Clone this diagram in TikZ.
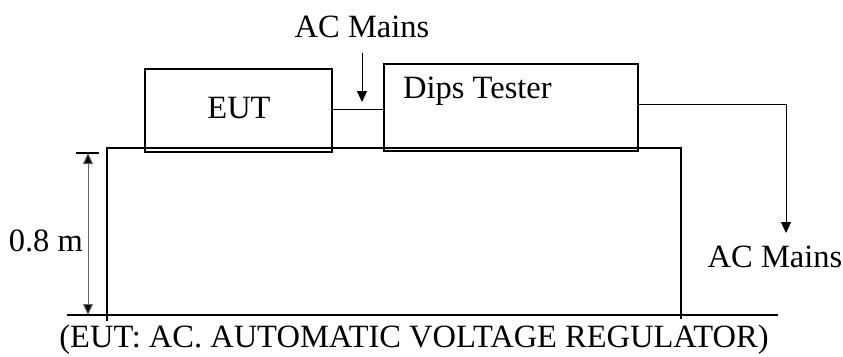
\documentclass[tikz,border=0pt]{standalone}
\usepackage{fontspec}
\setmainfont{Liberation Serif}
\usetikzlibrary{arrows.meta}

\begin{document}
\begin{tikzpicture}[x=1pt,y=-1pt,>={Triangle[length=11pt,width=10pt]},
    unit/.style={draw,line width=1.1pt,inner sep=0pt},
    lbl/.style={inner sep=0pt,font=\fontsize{32.5}{38}\selectfont},
    wire/.style={line width=1pt}]
        \useasboundingbox (0,0) rectangle (843,356);
        % boxes on the table
        \node[unit,minimum width=187pt,minimum height=83pt] (eut) at (238.5,110.5) {};
        \node[lbl,anchor=base] (euttext) at (239,118) {EUT};
        \node[unit,minimum width=254pt,minimum height=87pt] (dips) at (511,107.5) {};
        \node[lbl,anchor=base west] (dipstext) at (403,98) {Dips Tester};
        \draw[wire] ([yshift=1.5pt]eut.east) -- ([yshift=1.5pt]eut.east -| dips.west);
        % mains in and out
        \node[lbl,anchor=base] (acin) at (362,37) {AC Mains};
        \coordinate (acintip) at (362,102);
        \draw[wire,->] ([yshift=-15pt]acin.south) -- (acintip);
        \node[lbl,anchor=base] (acout) at (775,267) {AC Mains};
        \coordinate (acouttip) at (786,233);
        \draw[wire,->] ([yshift=3.5pt]dips.east) -| (acouttip);
        % table and floor
        \draw[line width=1.1pt] (107,321) -- (107,148) -- (681,148) -- (681,319);
        \draw[line width=1.1pt] (67,315) -- (778,315);
        \draw[line width=1.1pt] (76,153) -- (99,153);
        \draw[line width=1pt,black!60,<->,>={Triangle[length=11pt,width=10pt,fill=black]}] (88,153) -- (88,315);
        \node[lbl,anchor=base east] (height) at (83,251) {0.8 m};
        \node[lbl,anchor=base] (caption) at (414,347) {(EUT: AC. AUTOMATIC VOLTAGE REGULATOR)};
      \end{tikzpicture}
\end{document}
